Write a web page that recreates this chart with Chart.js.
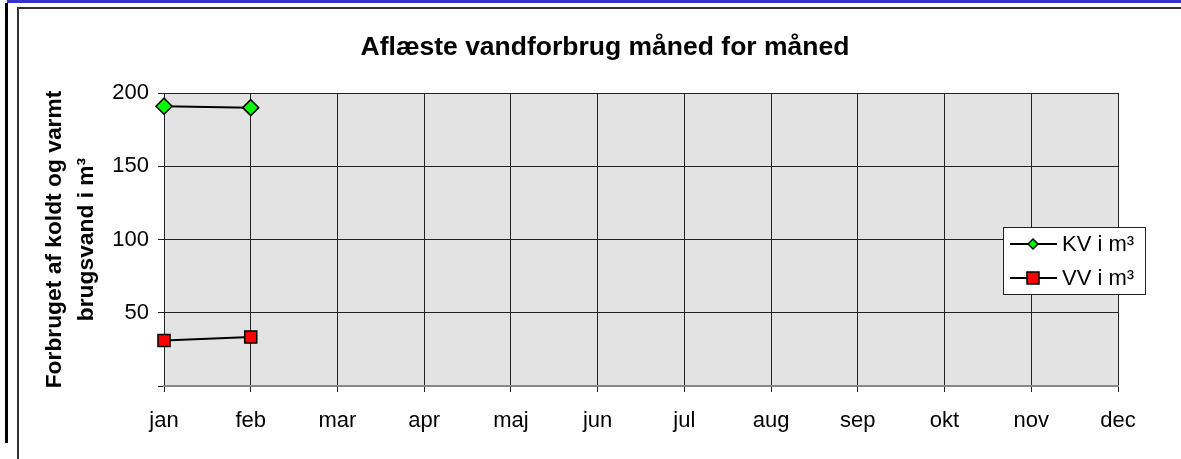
<!DOCTYPE html>
<html>
<head>
<meta charset="utf-8">
<script src="https://cdn.jsdelivr.net/npm/chart.js@4"></script>
<style>
  html, body { margin: 0; padding: 0; background: #fff; }
  #wrap { width: 1181px; height: 459px; position: relative; }
</style>
</head>
<body>
<div id="wrap"><canvas id="lineChart"></canvas></div>
<script>
const months = ['jan', 'feb', 'mar', 'apr', 'maj', 'jun', 'jul', 'aug', 'sep', 'okt', 'nov', 'dec'];
const koldtVand = [191, 190, null, null, null, null, null, null, null, null, null, null];
const varmtVand = [31, 33.5, null, null, null, null, null, null, null, null, null, null];
const yTicks = [0, 50, 100, 150, 200];

const FONT = "'Liberation Sans', Arial, sans-serif";

// sheet decoration + grey plot background
const frame = {
    id: 'frame',
    beforeDraw(chart) {
        const ctx = chart.ctx;
        const a = chart.chartArea;
        ctx.save();
        ctx.fillStyle = '#3333cc';
        ctx.fillRect(7, 0, 1174, 3);
        ctx.fillStyle = '#000';
        ctx.fillRect(5, 3, 3, 440);
        ctx.fillStyle = '#333';
        ctx.fillRect(17, 7, 2, 452);
        ctx.fillRect(17, 7, 1164, 2);
        ctx.fillStyle = 'rgb(227,227,227)';
        ctx.fillRect(a.left, a.top, a.right - a.left, a.bottom - a.top);
        ctx.restore();
    }
};

// legend box inside the plot, like excel
const boxLegend = {
    id: 'boxLegend',
    afterDraw(chart) {
        const ctx = chart.ctx;
        ctx.save();
        ctx.fillStyle = '#fff';
        ctx.fillRect(1003, 227, 143, 68);
        ctx.strokeStyle = '#222';
        ctx.lineWidth = 1;
        ctx.strokeRect(1003.5, 227.5, 142, 67);
        const rows = [244, 278];
        chart.data.datasets.forEach((ds, i) => {
            const y = rows[i];
            ctx.strokeStyle = '#000';
            ctx.lineWidth = 2;
            ctx.beginPath();
            ctx.moveTo(1010, y);
            ctx.lineTo(1057, y);
            ctx.stroke();
            ctx.fillStyle = ds.pointBackgroundColor;
            ctx.lineWidth = 1.5;
            ctx.beginPath();
            if (ds.pointStyle === 'rectRot') {
                ctx.moveTo(1033, y - 5); ctx.lineTo(1038, y); ctx.lineTo(1033, y + 5); ctx.lineTo(1028, y);
                ctx.closePath();
            } else {
                ctx.rect(1027, y - 6, 12, 12);
            }
            ctx.fill();
            ctx.stroke();
            ctx.fillStyle = '#000';
            ctx.font = '22px ' + FONT;
            ctx.textBaseline = 'middle';
            ctx.fillText(ds.label, 1062, y + 1);
        });
        ctx.restore();
    }
};

const ctx = document.getElementById('lineChart').getContext('2d');
const myChart = new Chart(ctx, {
    type: 'line',
    data: {
        labels: months,
        datasets: [{
            label: 'KV i m³',
            data: koldtVand,
            borderColor: '#000',
            borderWidth: 2,
            pointStyle: 'rectRot',
            pointRadius: 8,
            pointBorderWidth: 1.5,
            pointBackgroundColor: '#00ff00',
            pointBorderColor: '#000',
            spanGaps: false
        }, {
            label: 'VV i m³',
            data: varmtVand,
            borderColor: '#000',
            borderWidth: 2,
            pointStyle: 'rect',
            pointRadius: 8.5,
            pointBorderWidth: 1.5,
            pointBackgroundColor: '#ff0000',
            pointBorderColor: '#000',
            spanGaps: false
        }]
    },
    options: {
        responsive: true,
        maintainAspectRatio: false,
        animation: false,
        layout: { padding: { left: 29, right: 0, top: 0, bottom: 0 } },
        plugins: {
            legend: { display: false },
            tooltip: { enabled: false },
            title: {
                display: true,
                text: 'Aflæste vandforbrug måned for måned',
                color: '#000',
                font: { family: FONT, size: 26.5, weight: 'bold', lineHeight: 1.2 },
                padding: { top: 31.5, bottom: 29.7 }
            }
        },
        scales: {
            x: {
                offset: false,
                grid: { color: '#222', lineWidth: 1, tickLength: 6 },
                border: { display: true, color: '#888', width: 2 },
                ticks: { color: '#000', padding: 16, maxRotation: 0, font: { family: FONT, size: 22 } },
                afterFit: s => { s.height = 73; }
            },
            y: {
                min: 0,
                max: 200,
                afterBuildTicks: s => { s.ticks = yTicks.map(v => ({ value: v })); },
                grid: { color: '#222', lineWidth: 1, tickLength: 6 },
                border: { display: false },
                ticks: {
                    color: '#000',
                    padding: 9,
                    font: { family: FONT, size: 22 },
                    callback: v => v === 0 ? '' : v
                },
                title: {
                    display: true,
                    text: ['Forbruget af koldt og varmt', 'brugsvand i m³'],
                    color: '#000',
                    font: { family: FONT, size: 22.8, weight: 'bold', lineHeight: 1.4 },
                    padding: { top: 10, bottom: 0 }
                },
                afterFit: s => { s.width = 135; }
            },
            // empty right axis, only keeps the gap right of the plot
            yRight: {
                position: 'right',
                display: true,
                grid: { display: false },
                border: { display: false },
                ticks: { display: false },
                afterFit: s => { s.width = 63; }
            }
        }
    },
    plugins: [frame, boxLegend]
});
</script>
</body>
</html>
